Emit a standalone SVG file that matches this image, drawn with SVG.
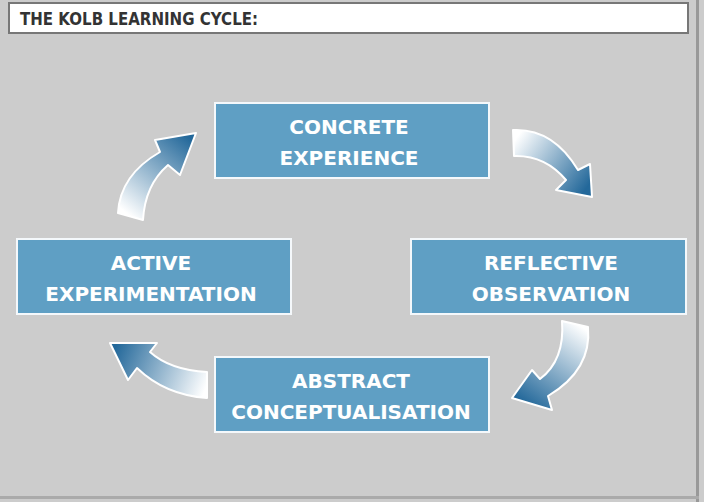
<svg xmlns="http://www.w3.org/2000/svg" width="704" height="502" viewBox="0 0 704 502">
<style>
.box{fill:#5f9fc4;stroke:#f4f8fb;stroke-width:2}
.t{font-family:"DejaVu Sans",sans-serif;font-weight:bold;font-size:20px;fill:#fff;text-anchor:middle}
.arr{stroke:#fff;stroke-width:2;stroke-linejoin:round}
</style>
<defs>
<linearGradient id="g1" gradientUnits="userSpaceOnUse" x1="515" y1="140" x2="585" y2="190"><stop offset="0" stop-color="#fff"/><stop offset="1" stop-color="#23689a"/></linearGradient>
<linearGradient id="g2" gradientUnits="userSpaceOnUse" x1="575" y1="322" x2="520" y2="400"><stop offset="0" stop-color="#fff"/><stop offset="1" stop-color="#23689a"/></linearGradient>
<linearGradient id="g3" gradientUnits="userSpaceOnUse" x1="207" y1="385" x2="115" y2="348"><stop offset="0" stop-color="#fff"/><stop offset="1" stop-color="#23689a"/></linearGradient>
<linearGradient id="g4" gradientUnits="userSpaceOnUse" x1="130" y1="216" x2="192" y2="140"><stop offset="0" stop-color="#fff"/><stop offset="1" stop-color="#23689a"/></linearGradient>
</defs>
<rect width="704" height="502" fill="#cccccc"/>
<rect x="696" y="0" width="3" height="502" fill="#999"/>
<rect x="0" y="496" width="699" height="3" fill="#aaa"/>
<rect x="9" y="3" width="679" height="30" fill="#fff" stroke="#777" stroke-width="2"/>
<text x="20" y="25" font-family="DejaVu Sans,sans-serif" font-weight="bold" font-size="17" fill="#333" textLength="238" lengthAdjust="spacingAndGlyphs">THE KOLB LEARNING CYCLE:</text>
<g id="connectors">
<path class="arr" fill="url(#g1)" d="M513,130 Q553,128 578,170 L590,164 L592,197 L556,190 L566,180 Q545,155 514,156 Z"/>
<path class="arr" fill="url(#g2)" d="M562,321 L588,327 Q592,370 548,396 L552,410 L512,398 L532,370 L540,379 Q565,360 562,321 Z"/>
<path class="arr" fill="url(#g3)" d="M207,372 Q170,370 150,352 L157,343 L110,343 L128,380 L137,368 Q165,395 207,398 Z"/>
<path class="arr" fill="url(#g4)" d="M118,213 L143,220 Q145,185 168,165 L180,175 L196,133 L155,140 L160,152 Q120,175 118,213 Z"/>
</g>
<g id="concrete"><rect class="box" x="215" y="103" width="274" height="75"/><text class="t" x="349" y="134">CONCRETE</text><text class="t" x="349" y="165">EXPERIENCE</text></g>
<g id="reflective"><rect class="box" x="411" y="239" width="275" height="75"/><text class="t" x="551" y="270">REFLECTIVE</text><text class="t" x="551" y="301">OBSERVATION</text></g>
<g id="abstract"><rect class="box" x="215" y="357" width="274" height="75"/><text class="t" x="351" y="388">ABSTRACT</text><text class="t" x="351" y="419">CONCEPTUALISATION</text></g>
<g id="active"><rect class="box" x="17" y="239" width="274" height="75"/><text class="t" x="151" y="270">ACTIVE</text><text class="t" x="151" y="301">EXPERIMENTATION</text></g>
</svg>
